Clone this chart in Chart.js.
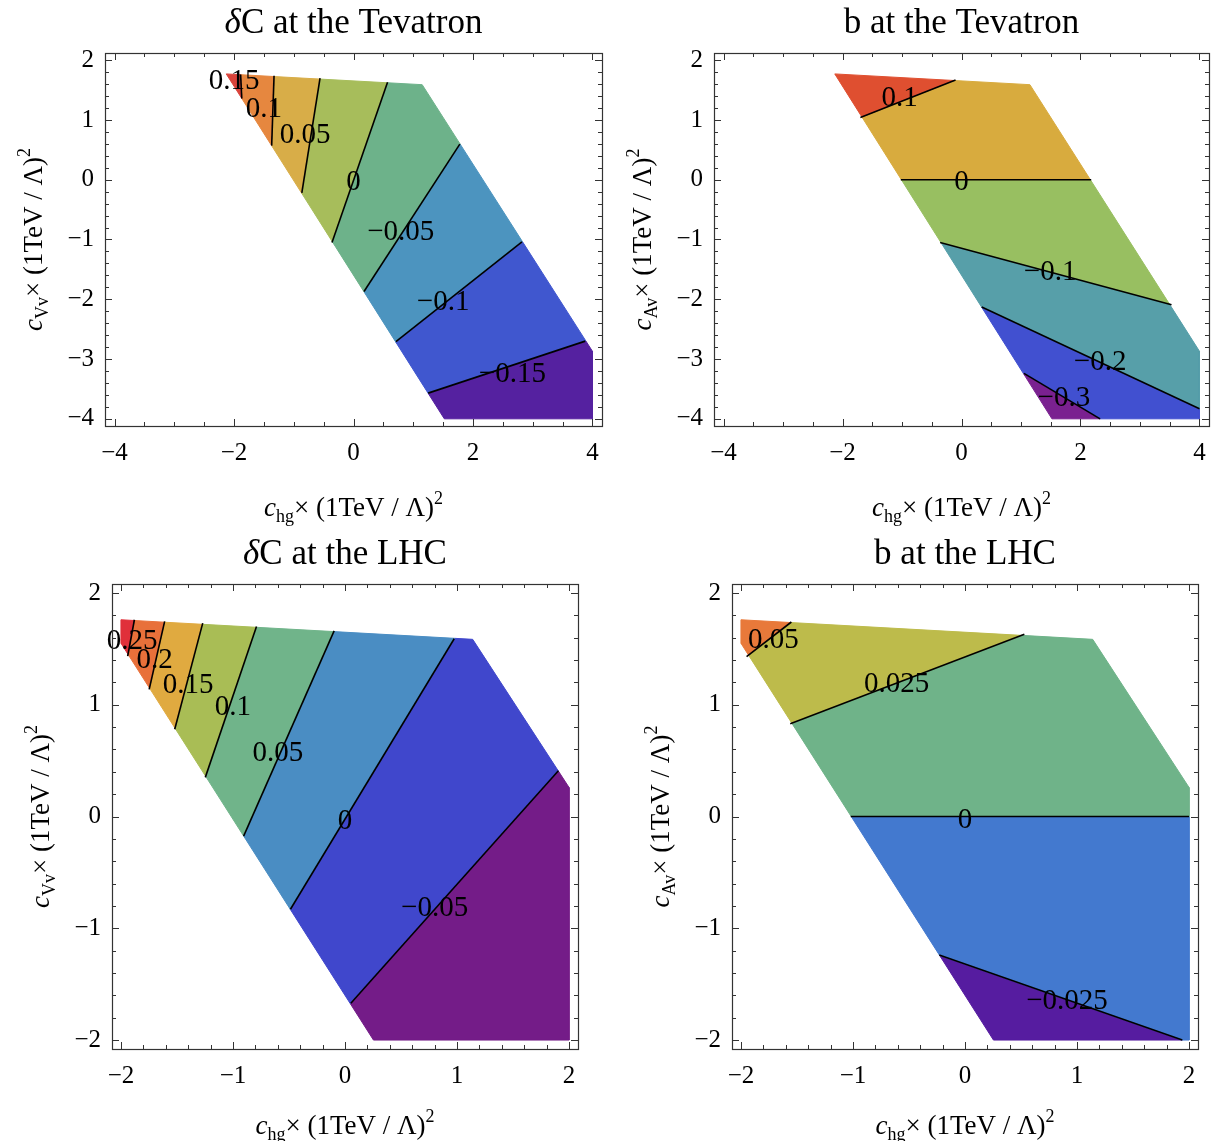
<!DOCTYPE html>
<html>
<head>
<meta charset="utf-8">
<script src="https://cdn.jsdelivr.net/npm/chart.js@4.4.0/dist/chart.umd.min.js"></script>
<style>
  html, body { margin: 0; padding: 0; background: #fff; overflow: hidden; }
  body { width: 1211px; height: 1141px; position: relative; }
  canvas { position: absolute; }
</style>
</head>
<body>
<canvas id="dcTev"></canvas>
<canvas id="bTev"></canvas>
<canvas id="dcLhc"></canvas>
<canvas id="bLhc"></canvas>
<script>
// ---------------------------------------------------------------
// Four contour panels (δC and b, Tevatron and LHC). Every coloured
// band is the allowed region cut by the straight contour lines,
// all read off the original figure in data units.
// ---------------------------------------------------------------

const FONT = "'Liberation Serif', 'Times New Roman', serif";

// allowed regions, clockwise from the top-left tip
const tevRegion = [[-2.13, 1.77], [1.15, 1.59], [4.0, -2.87], [4.0, -4.0], [1.52, -4.0]];
const lhcRegion = [[-2.0, 1.76], [1.14, 1.585], [2.0, 0.26], [2.0, -2.0], [0.254, -2.0], [-2.0, 1.55]];

// axis ticks
const tevXTicks = [-4, -2, 0, 2, 4];
const tevYTicks = [-4, -3, -2, -1, 0, 1, 2];
const lhcXTicks = [-2, -1, 0, 1, 2];
const lhcYTicks = [-2, -1, 0, 1, 2];

// ---- δC at the Tevatron ----
const dcTevLevels = ['0.15', '0.1', '0.05', '0', '−0.05', '−0.1', '−0.15'];
const dcTevLines = [
  [[-1.89, 1.76], [-1.87, 1.36]],
  [[-1.33, 1.74], [-1.37, 0.57]],
  [[-0.56, 1.70], [-0.865, -0.22]],
  [[0.57, 1.63], [-0.36, -1.05]],
  [[1.78, 0.595], [0.176, -1.87]],
  [[2.82, -1.04], [0.71, -2.71]],
  [[3.88, -2.70], [1.25, -3.57]]
];
const dcTevLabelAt = [[-2.0, 1.69], [-1.5, 1.21], [-0.81, 0.79], [0, 0], [0.79, -0.84], [1.5, -2.02], [2.66, -3.22]];
const dcTevColors = ['#da433b', '#e6873f', '#d8ad48', '#a7bd5b', '#6db28a', '#4c94bf', '#4057cf', '#5521a0'];

// ---- b at the Tevatron ----
const bTevLevels = ['0.1', '0', '−0.1', '−0.2', '−0.3'];
const bTevLines = [
  [[-1.70, 1.04], [-0.10, 1.67]],
  [[-1.02, 0.0], [2.18, 0.0]],
  [[-0.36, -1.05], [3.53, -2.09]],
  [[0.34, -2.13], [4.0, -3.83]],
  [[1.05, -3.24], [2.33, -4.0]]
];
const bTevLabelAt = [[-1.04, 1.40], [0, 0], [1.49, -1.51], [2.33, -3.02], [1.72, -3.61]];
const bTevColors = ['#df4f30', '#d8ab3e', '#98bf61', '#579fa9', '#4150d0', '#7a2190'];

// ---- δC at the LHC ----
const dcLhcLevels = ['0.25', '0.2', '0.15', '0.1', '0.05', '0', '−0.05'];
const dcLhcLines = [
  [[-1.88, 1.76], [-1.94, 1.435]],
  [[-1.61, 1.746], [-1.748, 1.137]],
  [[-1.27, 1.73], [-1.52, 0.78]],
  [[-0.79, 1.70], [-1.247, 0.35]],
  [[-0.097, 1.66], [-0.905, -0.175]],
  [[0.975, 1.59], [-0.487, -0.83]],
  [[1.905, 0.41], [0.052, -1.67]]
];
const dcLhcLabelAt = [[-1.90, 1.59], [-1.70, 1.42], [-1.40, 1.19], [-1.0, 1.0], [-0.60, 0.59], [0, -0.02], [0.80, -0.80]];
const dcLhcColors = ['#e0303a', '#e8703a', '#e0aa40', '#a9bd55', '#70b48a', '#4a8dc3', '#4047cc', '#741c88'];

// ---- b at the LHC ----
const bLhcLevels = ['0.05', '0.025', '0', '−0.025'];
const bLhcLines = [
  [[-1.95, 1.43], [-1.55, 1.74]],
  [[-1.56, 0.83], [0.53, 1.63]],
  [[-1.02, 0.0], [2.0, 0.0]],
  [[-0.23, -1.24], [1.94, -2.0]]
];
const bLhcLabelAt = [[-1.71, 1.60], [-0.61, 1.20], [0, -0.01], [0.91, -1.63]];
const bLhcColors = ['#e8793a', '#bdbb4b', '#6fb389', '#4379cf', '#561ca0'];

// ---- geometry: cut the region into bands ----
function side(a, b, p) {
  return (b[0] - a[0]) * (p[1] - a[1]) - (b[1] - a[1]) * (p[0] - a[0]);
}

function clipHalf(poly, a, b, keep) {
  const out = [];
  for (let i = 0; i < poly.length; i++) {
    const p = poly[i], q = poly[(i + 1) % poly.length];
    const sp = side(a, b, p) * keep, sq = side(a, b, q) * keep;
    if (sp >= 0) out.push(p);
    if ((sp >= 0) !== (sq >= 0)) {
      const t = sp / (sp - sq);
      out.push([p[0] + t * (q[0] - p[0]), p[1] + t * (q[1] - p[1])]);
    }
  }
  return out;
}

// band 0 is the highest level (the region tip sits in it)
function buildBands(region, lines) {
  const tip = region[0];
  const bands = [];
  for (let k = 0; k <= lines.length; k++) {
    let poly = region;
    lines.forEach(([a, b], i) => {
      const hi = Math.sign(side(a, b, tip));
      poly = clipHalf(poly, a, b, i < k ? -hi : hi);
    });
    bands.push(poly);
  }
  return bands;
}

const toPts = poly => poly.map(([x, y]) => ({ x, y }));

// ---- text helpers ----
function drawRich(ctx, parts, x, y, size) {
  const segs = parts.map(([t, style, sc = 1, dy = 0]) => {
    const font = `${style} ${Math.round(size * sc)}px ${FONT}`;
    ctx.font = font;
    return { t, font, w: ctx.measureText(t).width, dy: dy * size };
  });
  let cx = x - segs.reduce((s, g) => s + g.w, 0) / 2;
  segs.forEach(g => { ctx.font = g.font; ctx.fillText(g.t, cx, y + g.dy); cx += g.w; });
}

const axisLabel = sub => [['c', 'italic'], [sub, 'normal', 0.68, 0.24], ['× (1TeV / Λ)', 'normal'], ['2', 'normal', 0.68, -0.45]];

const panelDecor = {
  id: 'panelDecor',
  afterDatasetsDraw(chart) {
    const o = chart.options.plugins.panelDecor;
    const { ctx, scales: { x, y } } = chart;
    ctx.save();
    ctx.fillStyle = '#000';
    ctx.textAlign = 'center';
    ctx.textBaseline = 'alphabetic';
    ctx.font = `29px ${FONT}`;
    o.levels.forEach((t, i) => {
      const [lx, ly] = o.labelAt[i];
      ctx.fillText(t, x.getPixelForValue(lx), y.getPixelForValue(ly) + 10);
    });
    ctx.restore();
  },
  afterDraw(chart) {
    const o = chart.options.plugins.panelDecor;
    const { ctx, chartArea: a, scales: { x, y } } = chart;
    ctx.save();
    // frame
    ctx.strokeStyle = '#333';
    ctx.lineWidth = 1.2;
    ctx.strokeRect(Math.round(a.left) + 0.5, Math.round(a.top) + 0.5, Math.round(a.right - a.left), Math.round(a.bottom - a.top));
    // inward ticks on all four sides
    ctx.beginPath();
    const tickX = (v, len) => {
      const px = Math.round(x.getPixelForValue(v)) + 0.5;
      ctx.moveTo(px, a.bottom); ctx.lineTo(px, a.bottom - len);
      ctx.moveTo(px, a.top); ctx.lineTo(px, a.top + len);
    };
    const tickY = (v, len) => {
      const py = Math.round(y.getPixelForValue(v)) + 0.5;
      ctx.moveTo(a.left, py); ctx.lineTo(a.left + len, py);
      ctx.moveTo(a.right, py); ctx.lineTo(a.right - len, py);
    };
    const xs = o.xTicks, ys = o.yTicks;
    for (let v = xs[0]; v <= xs[xs.length - 1] + 1e-9; v += o.xMinor) {
      const major = xs.some(t => Math.abs(t - v) < 1e-6);
      tickX(v, major ? 7 : 4);
    }
    for (let v = ys[0]; v <= ys[ys.length - 1] + 1e-9; v += o.yMinor) {
      const major = ys.some(t => Math.abs(t - v) < 1e-6);
      tickY(v, major ? 7 : 4);
    }
    ctx.lineWidth = 1;
    ctx.stroke();

    // titles
    ctx.fillStyle = '#000';
    ctx.textAlign = 'left';
    ctx.textBaseline = 'alphabetic';
    const cx = (a.left + a.right) / 2, cy = (a.top + a.bottom) / 2;
    drawRich(ctx, o.title, cx, a.top - o.titleGap, 35);
    drawRich(ctx, axisLabel('hg'), cx, a.bottom + o.xTitleGap, 27);
    ctx.translate(a.left - o.yTitleGap, cy);
    ctx.rotate(-Math.PI / 2);
    drawRich(ctx, axisLabel(o.ySub), 0, 0, 27);
    ctx.restore();
  }
};

const fmt = v => (v < 0 ? '−' : '') + Math.abs(v);

function makePanel(id, box, frame, spec) {
  const el = document.getElementById(id);
  el.width = box.w; el.height = box.h;
  el.style.left = box.l + 'px'; el.style.top = box.t + 'px';
  el.style.width = box.w + 'px'; el.style.height = box.h + 'px';

  const bands = buildBands(spec.region, spec.lines);
  const datasets = [];
  bands.forEach((poly, i) => {
    const pts = toPts(poly);
    pts.push(pts[0]);
    datasets.push({
      data: pts, showLine: true, fill: 'shape', order: 2,
      backgroundColor: spec.colors[i], borderColor: spec.colors[i], borderWidth: 1,
      pointRadius: 0, tension: 0
    });
  });
  spec.lines.forEach(seg => {
    datasets.push({
      data: toPts(seg), showLine: true, fill: false, order: 1,
      borderColor: '#000', borderWidth: 1.6, pointRadius: 0, tension: 0
    });
  });

  const tickFont = { family: FONT, size: 25 };
  return new Chart(el, {
    type: 'scatter',
    data: { datasets },
    options: {
      responsive: false, animation: false, devicePixelRatio: 1, events: [],
      layout: { padding: { left: 0, top: frame.t - box.t, right: box.l + box.w - frame.r, bottom: 0 } },
      plugins: {
        legend: { display: false }, tooltip: { enabled: false },
        panelDecor: {
          levels: spec.levels, labelAt: spec.labelAt, title: spec.title, ySub: spec.ySub,
          xTicks: spec.xTicks, yTicks: spec.yTicks, xMinor: spec.xMinor, yMinor: spec.yMinor,
          titleGap: 20, xTitleGap: spec.xTitleGap, yTitleGap: 63
        }
      },
      scales: {
        x: {
          type: 'linear', min: spec.xRange[0], max: spec.xRange[1],
          grid: { display: false }, border: { display: false },
          afterBuildTicks: s => { s.ticks = spec.xTicks.map(value => ({ value })); },
          afterFit: s => { s.height = box.t + box.h - frame.b; },
          ticks: { autoSkip: false, maxRotation: 0, padding: 4, color: '#000', font: tickFont, callback: fmt }
        },
        y: {
          type: 'linear', min: spec.yRange[0], max: spec.yRange[1],
          grid: { display: false }, border: { display: false },
          afterBuildTicks: s => { s.ticks = spec.yTicks.map(value => ({ value })); },
          afterFit: s => { s.width = frame.l - box.l; },
          ticks: { autoSkip: false, padding: 3, color: '#000', font: tickFont, callback: fmt }
        }
      }
    },
    plugins: [panelDecor]
  });
}

makePanel('dcTev', { l: 0, t: 0, w: 612, h: 530 }, { l: 105, t: 53, r: 602, b: 426 }, {
  region: tevRegion, lines: dcTevLines, levels: dcTevLevels, labelAt: dcTevLabelAt, colors: dcTevColors,
  title: [['δ', 'italic'], ['C at the Tevatron', 'normal']], ySub: 'Vv',
  xTicks: tevXTicks, yTicks: tevYTicks, xMinor: 0.5, yMinor: 0.2,
  xRange: [-4.16, 4.16], yRange: [-4.12, 2.12], xTitleGap: 90
});

makePanel('bTev', { l: 612, t: 0, w: 612, h: 530 }, { l: 714, t: 53, r: 1209, b: 426 }, {
  region: tevRegion, lines: bTevLines, levels: bTevLevels, labelAt: bTevLabelAt, colors: bTevColors,
  title: [['b at the Tevatron', 'normal']], ySub: 'Av',
  xTicks: tevXTicks, yTicks: tevYTicks, xMinor: 0.5, yMinor: 0.2,
  xRange: [-4.16, 4.16], yRange: [-4.12, 2.12], xTitleGap: 90
});

makePanel('dcLhc', { l: 0, t: 530, w: 612, h: 611 }, { l: 112, t: 584, r: 578, b: 1049 }, {
  region: lhcRegion, lines: dcLhcLines, levels: dcLhcLevels, labelAt: dcLhcLabelAt, colors: dcLhcColors,
  title: [['δ', 'italic'], ['C at the LHC', 'normal']], ySub: 'Vv',
  xTicks: lhcXTicks, yTicks: lhcYTicks, xMinor: 0.2, yMinor: 0.2,
  xRange: [-2.08, 2.08], yRange: [-2.08, 2.08], xTitleGap: 85
});

makePanel('bLhc', { l: 612, t: 530, w: 612, h: 611 }, { l: 732, t: 584, r: 1198, b: 1049 }, {
  region: lhcRegion, lines: bLhcLines, levels: bLhcLevels, labelAt: bLhcLabelAt, colors: bLhcColors,
  title: [['b at the LHC', 'normal']], ySub: 'Av',
  xTicks: lhcXTicks, yTicks: lhcYTicks, xMinor: 0.2, yMinor: 0.2,
  xRange: [-2.08, 2.08], yRange: [-2.08, 2.08], xTitleGap: 85
});
</script>
</body>
</html>
